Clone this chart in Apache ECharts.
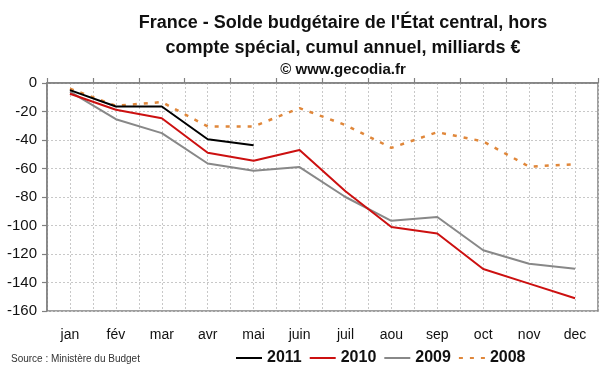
<!DOCTYPE html>
<html><head><meta charset="utf-8">
<script src="https://cdn.jsdelivr.net/npm/echarts@6/dist/echarts.min.js"></script>
<style>html,body{margin:0;padding:0;background:#fff}#c{width:600px;height:372px}</style>
</head><body><div id="c"></div>
<script>
const months = ['jan','fév','mar','avr','mai','juin','juil','aou','sep','oct','nov','dec'];
const s2011 = [-5, -16.5, -16.5, -39.5, -43.7];
const s2010 = [-7.5, -18.8, -24.7, -49, -54.5, -47, -76, -101, -105.6, -130.5, -140.8, -151];
const s2009 = [-6, -25.4, -35.2, -56.5, -61.5, -59, -80, -96.7, -94, -117.4, -126.8, -130.3];
const s2008 = [-4, -16, -13.4, -30.5, -30.5, -17.6, -29.5, -45.5, -34.5, -41, -58.7, -57];
const yTicks = {min: -160, max: 0, interval: 20};

const chart = echarts.init(document.getElementById('c'));
const ff = 'Arial, "Liberation Sans", sans-serif';
const axisGray = '#808080';
chart.setOption({
  animation: false,
  textStyle: {fontFamily: ff},
  title: [
    {text: "France - Solde budgétaire de l'État central, hors\ncompte spécial, cumul annuel, milliards €",
     left: 338, top: 6, textAlign: 'center',
     textStyle: {fontSize: 18, fontWeight: 'bold', color: '#111', lineHeight: 25, fontFamily: ff}},
    {text: '© www.gecodia.fr', left: 338, top: 57, textAlign: 'center',
     textStyle: {fontSize: 15, fontWeight: 'bold', color: '#111', fontFamily: ff}},
    {text: 'Source : Ministère du Budget', left: 6, top: 349,
     textStyle: {fontSize: 10, fontWeight: 'normal', color: '#333', fontFamily: ff}}
  ],
  legend: {
    show: true, bottom: 1, left: 230, itemWidth: 26, itemHeight: 12, itemGap: 7,
    itemStyle: {opacity: 0},
    textStyle: {fontSize: 16, fontWeight: 'bold', color: '#111', fontFamily: ff},
    data: ['2011','2010','2009','2008']
  },
  grid: {left: 47, right: 2, top: 83, bottom: 61, show: true, borderColor: axisGray, borderWidth: 1.5},
  xAxis: [
    {type: 'category', data: months, position: 'bottom', boundaryGap: true,
     axisLine: {show: false}, axisTick: {show: false},
     axisLabel: {fontSize: 14, color: '#111', margin: 17, fontFamily: ff},
     splitLine: {show: false}},
    {type: 'category', data: months, position: 'top', boundaryGap: true,
     axisLine: {onZero: false, lineStyle: {color: axisGray, width: 1.5}},
     axisTick: {show: true, length: 5, lineStyle: {color: axisGray, width: 1.2}},
     axisLabel: {show: false}, splitLine: {show: false}},
    {type: 'value', min: 0, max: 24, interval: 1, show: true, position: 'bottom',
     axisLine: {show: false}, axisTick: {show: false}, axisLabel: {show: false},
     splitLine: {show: true, lineStyle: {color: '#c8c8c8', type: [2, 2], width: 1}}}
  ],
  yAxis: {
    type: 'value', min: yTicks.min, max: yTicks.max, interval: yTicks.interval,
    axisLine: {show: true, onZero: false, lineStyle: {color: axisGray, width: 1.5}},
    axisTick: {show: true, length: 5, lineStyle: {color: axisGray, width: 1.2}},
    axisLabel: {fontSize: 15, color: '#111', margin: 10, fontFamily: ff},
    splitLine: {show: true, lineStyle: {color: '#c8c8c8', type: [2, 2], width: 1}}
  },
  series: [
    {name: '2011', type: 'line', data: s2011, symbol: 'none', z: 5,
     itemStyle: {color: '#000000'}, lineStyle: {color: '#000000', width: 2}},
    {name: '2010', type: 'line', data: s2010, symbol: 'none', z: 4,
     itemStyle: {color: '#CC1010'}, lineStyle: {color: '#CC1010', width: 2}},
    {name: '2009', type: 'line', data: s2009, symbol: 'none', z: 3,
     itemStyle: {color: '#888888'}, lineStyle: {color: '#888888', width: 2}},
    {name: '2008', type: 'line', data: s2008, symbol: 'none', z: 2,
     itemStyle: {color: '#E0873A'}, lineStyle: {color: '#E0873A', width: 2.5, type: [4, 7]}}
  ]
});
</script></body></html>
